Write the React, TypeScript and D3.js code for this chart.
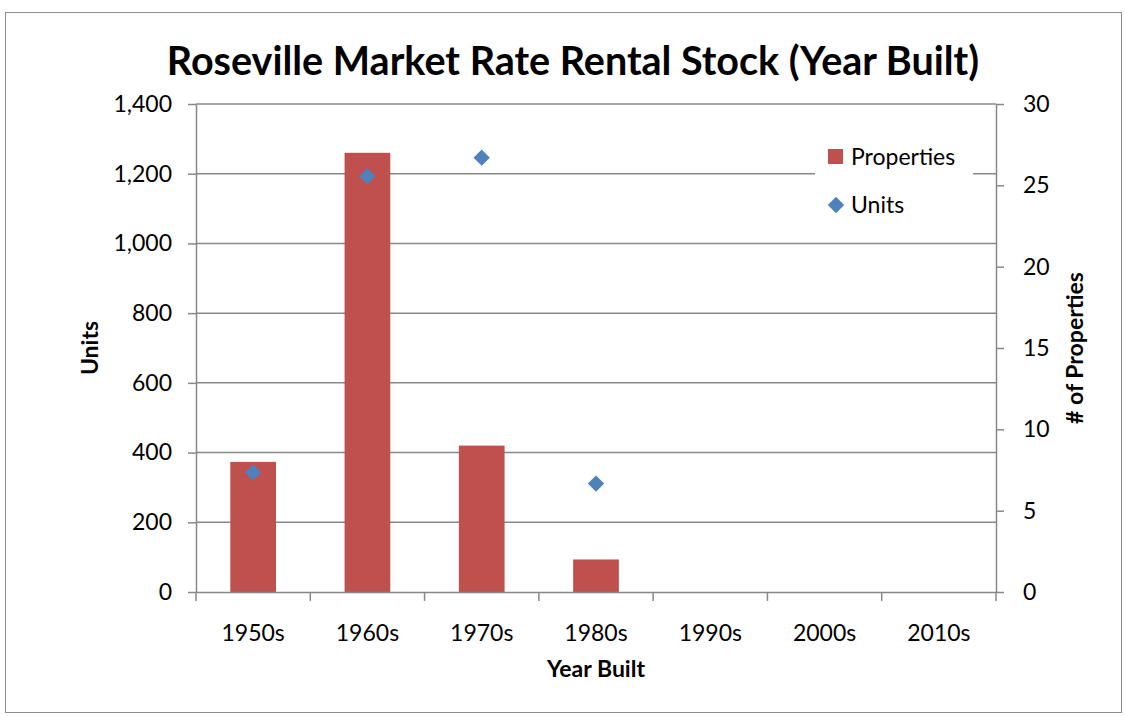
import React, { useEffect, useRef } from 'react';
import * as d3 from 'd3';

const decades = ['1950s', '1960s', '1970s', '1980s', '1990s', '2000s', '2010s'];
const properties = [8, 27, 9, 2, 0, 0, 0];
const units = [343, 1193, 1246, 311, null, null, null];
const unitTicks = [0, 200, 400, 600, 800, 1000, 1200, 1400];
const propTicks = [0, 5, 10, 15, 20, 25, 30];

const width = 1125;
const height = 717;
const font = 'Lato, "Open Sans", sans-serif';

export default function App() {
    const ref = useRef<SVGSVGElement>(null);

    useEffect(() => {
        const svg = d3.select(ref.current);
        svg.selectAll('*').remove();

        const left = 196, right = 996, top = 104, bottom = 592;

        const x = d3.scaleBand().domain(decades).range([left, right]).paddingInner(0.6).paddingOuter(0.3);
        const xOuter = d3.scaleBand().domain(decades).range([left, right]);
        const yUnits = d3.scaleLinear().domain([0, 1400]).range([bottom, top]);
        const yProps = d3.scaleLinear().domain([0, 30]).range([bottom, top]);

        // chart border
        svg.append('rect')
            .attr('x', 5.5).attr('y', 12.5)
            .attr('width', 1116).attr('height', 700)
            .attr('fill', 'white')
            .attr('stroke', '#8c8c8c')
            .attr('stroke-width', 1);

        // gridlines
        svg.append('g')
            .selectAll('line')
            .data(unitTicks.slice(1))
            .enter()
            .append('line')
            .attr('x1', left).attr('x2', right)
            .attr('y1', d => yUnits(d)).attr('y2', d => yUnits(d))
            .attr('stroke', '#888')
            .attr('stroke-width', 1.5);

        // bars
        svg.append('g')
            .selectAll('rect')
            .data(decades)
            .enter()
            .append('rect')
            .attr('x', d => x(d)!)
            .attr('width', x.bandwidth())
            .attr('y', (_, i) => yProps(properties[i]))
            .attr('height', (_, i) => bottom - yProps(properties[i]))
            .attr('fill', '#C0504D');

        // axes
        const axisStyle = (g: any) => {
            g.select('.domain').attr('stroke', '#888').attr('stroke-width', 1.5);
            g.selectAll('.tick line').attr('stroke', '#888').attr('stroke-width', 1.5);
            g.selectAll('.tick text')
                .attr('font-family', font)
                .attr('font-size', 23)
                .attr('fill', '#000');
        };

        svg.append('g')
            .attr('transform', `translate(${left},0)`)
            .call(d3.axisLeft(yUnits).tickValues(unitTicks).tickSize(8).tickPadding(16).tickSizeOuter(0).tickFormat(d3.format(',')))
            .call(axisStyle);

        svg.append('g')
            .attr('transform', `translate(${right},0)`)
            .call(d3.axisRight(yProps).tickValues(propTicks).tickSize(8).tickPadding(19).tickSizeOuter(0))
            .call(axisStyle);

        const xAxis = svg.append('g')
            .attr('transform', `translate(0,${bottom})`)
            .call(d3.axisBottom(xOuter).tickSize(0).tickPadding(33).tickSizeOuter(0))
            .call(axisStyle);

        // category boundary ticks
        xAxis.selectAll('.boundary')
            .data(decades.concat(['end']))
            .enter()
            .append('line')
            .attr('x1', (_, i) => left + i * xOuter.step())
            .attr('x2', (_, i) => left + i * xOuter.step())
            .attr('y1', 0).attr('y2', 9)
            .attr('stroke', '#888')
            .attr('stroke-width', 1.5);

        // units diamonds
        const diamond = d3.symbol().type(d3.symbolDiamond2).size(170);
        svg.append('g')
            .selectAll('path')
            .data(units.map((u, i) => ({ u, d: decades[i] })).filter(p => p.u !== null))
            .enter()
            .append('path')
            .attr('d', diamond)
            .attr('transform', p => `translate(${xOuter(p.d)! + xOuter.bandwidth() / 2},${yUnits(p.u as number)})`)
            .attr('fill', '#4F81BD');

        // title
        svg.append('text')
            .attr('x', 573).attr('y', 75)
            .attr('text-anchor', 'middle')
            .attr('font-family', font)
            .attr('font-weight', 'bold')
            .attr('font-size', 39.5)
            .text('Roseville Market Rate Rental Stock (Year Built)');

        // axis titles
        svg.append('text')
            .attr('transform', `translate(98,${(top + bottom) / 2}) rotate(-90)`)
            .attr('text-anchor', 'middle')
            .attr('font-family', font)
            .attr('font-weight', 'bold')
            .attr('font-size', 23)
            .text('Units');

        svg.append('text')
            .attr('transform', `translate(1083,${(top + bottom) / 2}) rotate(-90)`)
            .attr('text-anchor', 'middle')
            .attr('font-family', font)
            .attr('font-weight', 'bold')
            .attr('font-size', 23)
            .text('# of Properties');

        svg.append('text')
            .attr('x', (left + right) / 2).attr('y', 677)
            .attr('text-anchor', 'middle')
            .attr('font-family', font)
            .attr('font-weight', 'bold')
            .attr('font-size', 23)
            .text('Year Built');

        // legend
        const legend = svg.append('g');
        legend.append('rect')
            .attr('x', 815).attr('y', 135)
            .attr('width', 158).attr('height', 90)
            .attr('fill', 'white');
        legend.append('rect')
            .attr('x', 828).attr('y', 149)
            .attr('width', 15).attr('height', 15)
            .attr('fill', '#C0504D');
        legend.append('text')
            .attr('x', 851).attr('y', 165)
            .attr('font-family', font)
            .attr('font-size', 23)
            .text('Properties');
        legend.append('path')
            .attr('d', diamond)
            .attr('transform', 'translate(836,205)')
            .attr('fill', '#4F81BD');
        legend.append('text')
            .attr('x', 851).attr('y', 213)
            .attr('font-family', font)
            .attr('font-size', 23)
            .text('Units');
    }, []);

    return (
        <svg
            ref={ref}
            width={width}
            height={height}
            style={{ position: 'absolute', left: 0, top: 0, background: 'white' }}
        />
    );
}
